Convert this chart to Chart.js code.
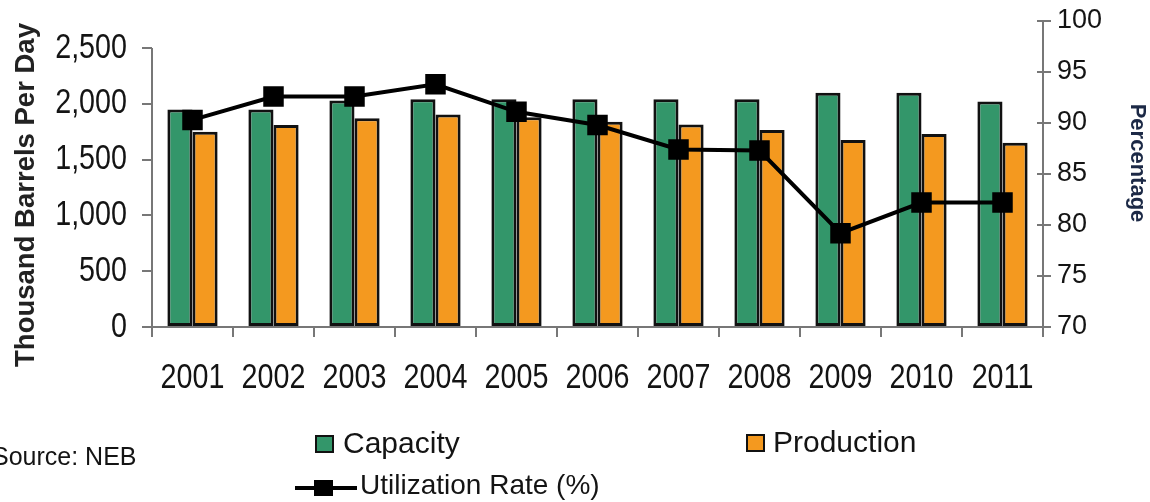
<!DOCTYPE html>
<html>
<head>
<meta charset="utf-8">
<script src="https://cdn.jsdelivr.net/npm/chart.js@4"></script>
<style>
  html, body { margin: 0; padding: 0; background: #fff; }
  #wrap { position: relative; width: 1150px; height: 502px; font-family: "Liberation Sans", Arial, sans-serif; color: #141414; overflow: hidden; }
  #chart { position: absolute; left: 0; top: 0; }
  .txt { position: absolute; white-space: nowrap; line-height: 1; }
  .box { position: absolute; box-sizing: border-box; width: 19px; height: 18px; border: 2.5px solid #111; }
  .lineKey { position: absolute; width: 62px; height: 16px; }
  .lineKey::before { content: ""; position: absolute; left: 0; right: 0; top: 6px; height: 4px; background: #000; }
  .lineKey::after { content: ""; position: absolute; left: 19px; top: 0; width: 19px; height: 16px; background: #000; }
</style>
</head>
<body>
<div id="wrap">
  <canvas id="chart" width="1150" height="502"></canvas>
  <div class="txt" style="left:-8px; top:444px; font-size:25px;">Source: NEB</div>
  <div class="box" id="boxCap" style="left:315px; top:435px;"></div>
  <div class="txt" id="legCap" style="left:343px; top:428px; font-size:30px;"></div>
  <div class="box" id="boxProd" style="left:746px; top:434px;"></div>
  <div class="txt" id="legProd" style="left:773px; top:427px; font-size:30px;"></div>
  <div class="lineKey" style="left:295px; top:480px;"></div>
  <div class="txt" id="legUtil" style="left:360px; top:471px; font-size:28px;"></div>
</div>
<script>
// Data
const years = ['2001', '2002', '2003', '2004', '2005', '2006', '2007', '2008', '2009', '2010', '2011'];
const capacity = [1950, 1950, 2030, 2040, 2040, 2040, 2040, 2040, 2100, 2100, 2020];
const production = [1750, 1810, 1870, 1905, 1880, 1840, 1815, 1765, 1675, 1730, 1650];
const utilization = [90.3, 92.6, 92.6, 93.8, 91.1, 89.8, 87.4, 87.3, 79.2, 82.2, 82.2];
const leftTicks = [0, 500, 1000, 1500, 2000, 2500];
const rightTicks = [70, 75, 80, 85, 90, 95, 100];

const green = '#33966a';
const orange = '#f4991f';
const axisGray = '#777';
const textColor = '#141414';
const squeeze = 0.82; // labels in the source are set in a narrow face

// HTML legend
document.getElementById('boxCap').style.background = green;
document.getElementById('boxProd').style.background = orange;
document.getElementById('legCap').textContent = 'Capacity';
document.getElementById('legProd').textContent = 'Production';
document.getElementById('legUtil').textContent = 'Utilization Rate (%)';

function narrowText(ctx, text, x, y, align, baseline) {
    ctx.save();
    ctx.translate(x, y);
    ctx.scale(squeeze, 1);
    ctx.textAlign = align;
    ctx.textBaseline = baseline;
    ctx.fillText(text, 0, 0);
    ctx.restore();
}

// axis lines, tick labels and titles drawn by hand
const axisExtras = {
    id: 'axisExtras',
    afterDraw(chart) {
        const x = chart.scales.x;
        const s = chart.scales.y;
        const r = chart.scales.y1;
        const ctx = chart.ctx;
        ctx.save();
        ctx.strokeStyle = axisGray;
        ctx.lineWidth = 2;
        // left axis only up to top tick
        ctx.beginPath();
        ctx.moveTo(s.right, s.getPixelForValue(0));
        ctx.lineTo(s.right, s.getPixelForValue(leftTicks[leftTicks.length - 1]));
        ctx.stroke();
        // right axis ticks cross the line
        rightTicks.forEach(v => {
            const py = r.getPixelForValue(v);
            ctx.beginPath();
            ctx.moveTo(r.left - 6, py);
            ctx.lineTo(r.left, py);
            ctx.stroke();
        });

        // tick labels
        ctx.fillStyle = textColor;
        ctx.font = "35px 'Liberation Sans', Arial, sans-serif";
        years.forEach((label, i) => {
            narrowText(ctx, label, x.getPixelForTick(i), x.bottom - 502 + 388, 'center', 'alphabetic');
        });
        leftTicks.forEach(v => {
            narrowText(ctx, v.toLocaleString('en-US'), s.right - 25, s.getPixelForValue(v), 'right', 'middle');
        });
        ctx.font = "27px 'Liberation Sans', Arial, sans-serif";
        ctx.textAlign = 'left';
        ctx.textBaseline = 'middle';
        rightTicks.forEach(v => {
            ctx.fillText(String(v), r.left + 14, r.getPixelForValue(v));
        });

        // titles
        ctx.textAlign = 'center';
        ctx.textBaseline = 'middle';
        ctx.fillStyle = '#222';
        ctx.font = "bold 27.5px 'Liberation Sans', Arial, sans-serif";
        ctx.translate(26, 195);
        ctx.rotate(-Math.PI / 2);
        ctx.fillText('Thousand Barrels Per Day', 0, 0);
        ctx.setTransform(1, 0, 0, 1, 0, 0);
        ctx.fillStyle = '#1c2946';
        ctx.font = "bold 22px 'Liberation Sans', Arial, sans-serif";
        ctx.translate(1137, 163);
        ctx.rotate(Math.PI / 2);
        ctx.fillText('Percentage', 0, 0);
        ctx.restore();
    }
};

const ctx = document.getElementById('chart').getContext('2d');
new Chart(ctx, {
    type: 'bar',
    data: {
        labels: years,
        datasets: [
            {
                type: 'line',
                label: 'Utilization Rate (%)',
                data: utilization,
                yAxisID: 'y1',
                borderColor: '#000',
                backgroundColor: '#000',
                borderWidth: 4,
                pointStyle: 'rect',
                pointRadius: 14.5,
                pointBorderWidth: 0,
                tension: 0,
                order: 0
            },
            {
                label: 'Capacity',
                data: capacity,
                yAxisID: 'y',
                backgroundColor: green,
                borderColor: '#111',
                borderWidth: 3,
                borderSkipped: false,
                categoryPercentage: 0.62,
                barPercentage: 1.0,
                order: 1
            },
            {
                label: 'Production',
                data: production,
                yAxisID: 'y',
                backgroundColor: orange,
                borderColor: '#111',
                borderWidth: 3,
                borderSkipped: false,
                categoryPercentage: 0.62,
                barPercentage: 1.0,
                order: 1
            }
        ]
    },
    options: {
        responsive: false,
        animation: false,
        layout: { padding: { top: 21, left: 0, right: 0, bottom: 0 } },
        plugins: {
            legend: { display: false },
            tooltip: { enabled: false }
        },
        scales: {
            x: {
                offset: true,
                afterFit: (scale) => { scale.height = 502 - 327; },
                grid: { display: true, drawOnChartArea: false, tickLength: 10, color: axisGray, lineWidth: 2 },
                border: { display: true, color: axisGray, width: 2 },
                ticks: { display: false }
            },
            y: {
                position: 'left',
                min: 0,
                max: 2742,
                afterFit: (scale) => { scale.width = 152; },
                afterBuildTicks: (scale) => { scale.ticks = leftTicks.map(v => ({ value: v })); },
                grid: { display: true, drawOnChartArea: false, tickLength: 10, color: axisGray, lineWidth: 2 },
                border: { display: false },
                ticks: { display: false }
            },
            y1: {
                position: 'right',
                min: 70,
                max: 100,
                afterFit: (scale) => { scale.width = 107; },
                afterBuildTicks: (scale) => { scale.ticks = rightTicks.map(v => ({ value: v })); },
                grid: { display: true, drawOnChartArea: false, tickLength: 8, color: axisGray, lineWidth: 2 },
                border: { display: true, color: axisGray, width: 2 },
                ticks: { display: false }
            }
        }
    },
    plugins: [axisExtras]
});
</script>
</body>
</html>
